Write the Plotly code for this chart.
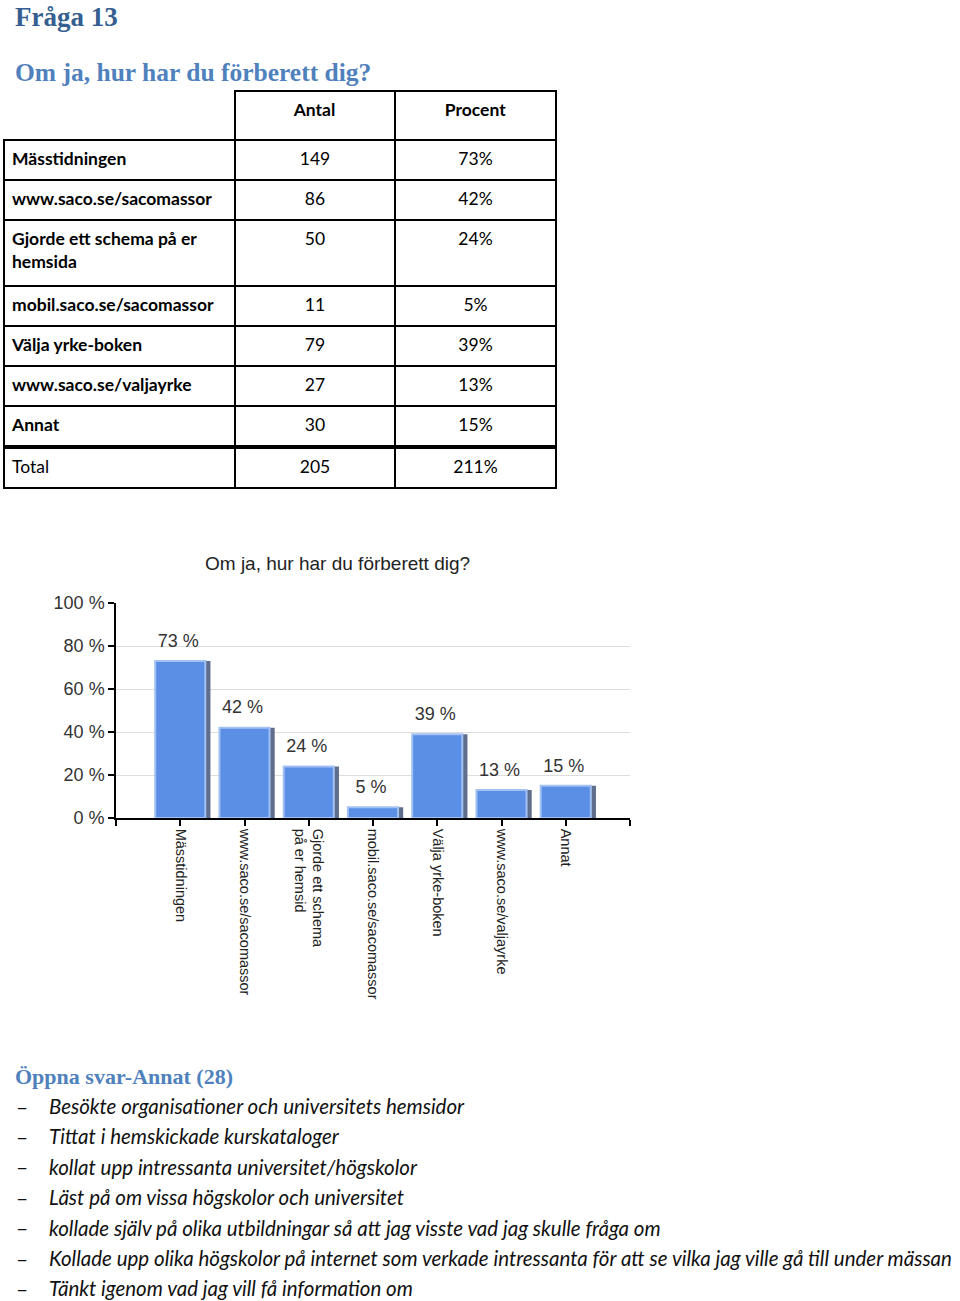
import plotly.graph_objects as go

W, H = 960, 1301

# ---------------- data ----------------
page_title = "Fråga 13"
question = "Om ja, hur har du förberett dig?"
chart_title = "Om ja, hur har du förberett dig?"
table_header = ["", "Antal", "Procent"]
table_labels = ["Mässtidningen", "www.saco.se/sacomassor", "Gjorde ett schema på er<br>hemsida",
                "mobil.saco.se/sacomassor", "Välja yrke-boken", "www.saco.se/valjayrke", "Annat"]
antal = [149, 86, 50, 11, 79, 27, 30]
procent = [73, 42, 24, 5, 39, 13, 15]
total_label = "Total"
total_antal = 205
total_procent = 211
axis_labels = ["Mässtidningen", "www.saco.se/sacomassor", "Gjorde ett schema<br>på er hemsid",
               "mobil.saco.se/sacomassor", "Välja yrke-boken", "www.saco.se/valjayrke", "Annat"]
y_ticks = [0, 20, 40, 60, 80, 100]
open_title = "Öppna svar-Annat (28)"
open_answers = [
    "Besökte organisationer och universitets hemsidor",
    "Tittat i hemskickade kurskataloger",
    "kollat upp intressanta universitet/högskolor",
    "Läst på om vissa högskolor och universitet",
    "kollade själv på olika utbildningar så att jag visste vad jag skulle fråga om",
    "Kollade upp olika högskolor på internet som verkade intressanta för att se vilka jag ville gå till under mässan",
    "Tänkt igenom vad jag vill få information om",
]

# ---------------- layout helpers ----------------
def px(x):
    return x / W

def py(y):
    return 1 - y / H

HEAD1 = dict(family="Liberation Serif", size=27, color="#365F91")
HEAD2 = dict(family="Liberation Serif", size=25.5, color="#4F81BD")
HEAD3 = dict(family="Liberation Serif", size=22, color="#4F81BD")
TABLE_FONT = dict(family="Lato", size=17.5, color="#000000")
LIST_FONT = dict(family="Lato", size=20.5, color="#111111")
CHART_FONT = "Liberation Sans"

fig = go.Figure()

# ---------------- table (one go.Table per row so row heights follow the document) ----------------
TAB_X0, TAB_X1 = 4, 556
col_widths = [231, 160, 161]
HEAD_H, ROW_H, ROW_H2, TOTAL_H = 49, 40, 66, 40
ALIGN = ["left", "center", "center"]


def plain(v):
    return f"<span>{v}</span>"


def add_row(top, h, values, first_cell_blank=False):
    fill = ["rgba(0,0,0,0)", "white", "white"] if first_cell_blank else "white"
    lcol = ["rgba(0,0,0,0)", "black", "black"] if first_cell_blank else "black"
    lw = [0, 2, 2] if first_cell_blank else 2
    fig.add_trace(go.Table(
        domain=dict(x=[px(TAB_X0), px(TAB_X1)], y=[py(top + h + 2), py(top)]),
        columnwidth=col_widths,
        header=dict(values=values, height=h, align=ALIGN, font=TABLE_FONT,
                    fill=dict(color=fill), line=dict(color=lcol, width=lw)),
        cells=dict(values=[[], [], []]),
    ))


y = 91
add_row(y, HEAD_H, [f"<b>{h}</b>" if h else "" for h in table_header], first_cell_blank=True)
y += HEAD_H
for lbl, a, p in zip(table_labels, antal, procent):
    h = ROW_H2 if "<br>" in lbl else ROW_H
    add_row(y, h, [f"<b>{lbl}</b>", plain(a), plain(f"{p}%")])
    y += h
y += 2
add_row(y, TOTAL_H, [plain(total_label), plain(total_antal), plain(f"{total_procent}%")])

# ---------------- bar chart ----------------
xs = list(range(len(procent)))
bw = 0.78
fig.add_trace(go.Bar(
    x=xs, y=procent, width=bw, offset=-bw / 2 + 0.08,
    marker=dict(color="#5E6E8C", line=dict(width=0)),
    hoverinfo="skip",
))
fig.add_trace(go.Bar(
    x=xs, y=procent, width=bw, offset=-bw / 2,
    marker=dict(color="#5B8FE6", line=dict(color="#A3C1F2", width=2)),
))
fig.add_trace(go.Scatter(
    x=[x - 0.03 for x in xs], y=procent, mode="markers+text",
    text=[f"{p} %" for p in procent], textposition="top center",
    marker=dict(size=14, color="rgba(0,0,0,0)"),
    textfont=dict(family=CHART_FONT, size=18, color="#333333"),
    cliponaxis=False, hoverinfo="skip",
))

tickvals = list(range(-1, len(axis_labels) + 1))
ticktext = [""] + axis_labels + [""]

fig.update_layout(
    width=W, height=H,
    margin=dict(l=0, r=0, t=0, b=0, autoexpand=False),
    paper_bgcolor="white", plot_bgcolor="white",
    showlegend=False, barmode="overlay",
    xaxis=dict(
        domain=[px(116), px(630)], range=[-1, len(axis_labels)],
        tickvals=tickvals, ticktext=ticktext, tickangle=90,
        ticks="outside", ticklen=6, tickwidth=1.5, tickcolor="black",
        showline=True, linecolor="black", linewidth=1.5,
        showgrid=False, zeroline=False,
        tickfont=dict(family=CHART_FONT, size=14.5, color="#222222"),
        fixedrange=True,
    ),
    yaxis=dict(
        domain=[py(818), py(603)], range=[0, 100],
        tickvals=y_ticks, ticktext=[f"{v} %" for v in y_ticks],
        ticks="outside", ticklen=6, tickwidth=1.5, tickcolor="black",
        showline=True, linecolor="black", linewidth=1.5,
        showgrid=True, gridcolor="#DDDDDD", gridwidth=1, zeroline=False,
        tickfont=dict(family=CHART_FONT, size=18, color="#333333"),
        fixedrange=True,
    ),
)

ann = []
ann.append(dict(text=f"<b>{page_title}</b>", x=px(13), y=py(17), xanchor="left", yanchor="middle", font=HEAD1))
ann.append(dict(text=f"<b>{question}</b>", x=px(13), y=py(72), xanchor="left", yanchor="middle", font=HEAD2))
ann.append(dict(text=chart_title, x=px(337), y=py(563), xanchor="center", yanchor="middle",
                font=dict(family=CHART_FONT, size=19, color="#222222")))
ann.append(dict(text=f"<b>{open_title}</b>", x=px(13), y=py(1076), xanchor="left", yanchor="middle", font=HEAD3))
for i, t in enumerate(open_answers):
    yy = 1106 + i * 30.4
    ann.append(dict(text="–", x=px(14), y=py(yy), xanchor="left", yanchor="middle",
                    font=dict(family="Lato", size=21, color="#111111")))
    ann.append(dict(text=f"<i>{t}</i>", x=px(47), y=py(yy), xanchor="left", yanchor="middle", font=LIST_FONT))
for a in ann:
    a.update(xref="paper", yref="paper", showarrow=False)
fig.update_layout(annotations=ann)

fig.write_html("out.html", config={"displayModeBar": False},
               post_script="document.body.style.margin='0px';")
